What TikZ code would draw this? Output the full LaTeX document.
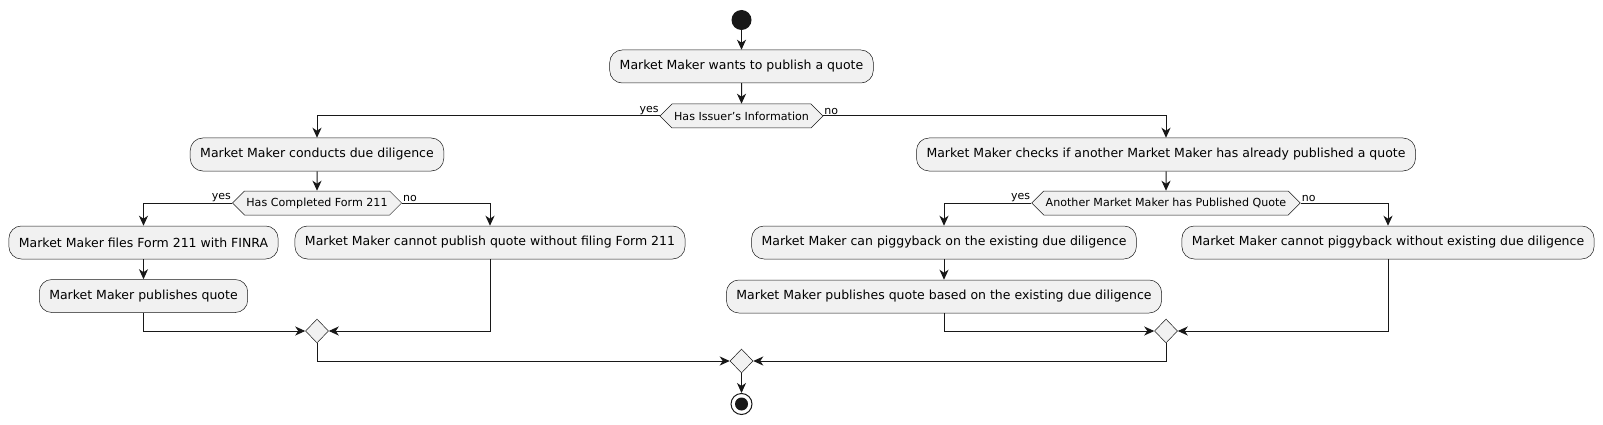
\documentclass[tikz,border=0pt]{standalone}
\usepackage{fontspec}
\setmainfont{DejaVu Sans}
\usepackage{xcolor}
\definecolor{ink}{HTML}{181818}
\definecolor{actfill}{HTML}{F1F1F1}
\usepackage{tikz}
\usetikzlibrary{arrows.meta,positioning,shapes.geometric,shapes.symbols}

\begin{document}
\begin{tikzpicture}[
  x=1pt, y=-1pt,
  font=\fontsize{12.5}{14}\selectfont,
  act/.style={draw=ink, fill=actfill, line width=0.5pt, rounded corners=12.5pt,
    minimum height=33pt, inner xsep=10pt},
  decide/.style={draw=ink, fill=actfill, line width=0.5pt, signal,
    signal to=west and east, signal pointer angle=90, minimum height=24pt,
    inner xsep=2pt, font=\fontsize{11.1}{13}\selectfont},
  merge/.style={draw=ink, fill=actfill, line width=0.5pt, diamond,
    minimum width=23pt, minimum height=24pt, inner sep=0pt},
  flow/.style={draw=ink, line width=1pt, -{Stealth[length=10pt,width=9pt,inset=3pt]}},
  guard/.style={font=\fontsize{11}{13}\selectfont, inner sep=1pt}
]
  \useasboundingbox (0,0) rectangle (1603,425);

  % top
  \node[circle, fill=ink, minimum size=20pt, inner sep=0pt] (start) at (741.5,20) {};
  \node[act] (want) at (741.5,66.5) {Market Maker wants to publish a quote};
  \node[decide] (q1) at (741.5,116) {Has Issuer's Information};
  \node[guard, anchor=south east] (q1yes) at (q1.west) {yes};
  \node[guard, anchor=south west] (q1no) at (q1.east) {no};

  % left branch
  \node[act] (dd) at (317,154.5) {Market Maker conducts due diligence};
  \node[decide] (q2) at (317,203) {Has Completed Form 211};
  \node[guard, anchor=south east] (q2yes) at (q2.west) {yes};
  \node[guard, anchor=south west] (q2no) at (q2.east) {no};
  \node[act] (file) at (143.5,242.5) {Market Maker files Form 211 with FINRA};
  \node[act] (pubq) at (143.5,296) {Market Maker publishes quote};
  \node[act] (nopub) at (490,242.5) {Market Maker cannot publish quote without filing Form 211};
  \node[merge] (m1) at (317,331) {};

  % right branch
  \node[act] (chk) at (1166,154.5) {Market Maker checks if another Market Maker has already published a quote};
  \node[decide] (q3) at (1166,203) {Another Market Maker has Published Quote};
  \node[guard, anchor=south east] (q3yes) at (q3.west) {yes};
  \node[guard, anchor=south west] (q3no) at (q3.east) {no};
  \node[act] (piggy) at (944,242.5) {Market Maker can piggyback on the existing due diligence};
  \node[act] (pubex) at (944,296.5) {Market Maker publishes quote based on the existing due diligence};
  \node[act] (nopig) at (1388,242.5) {Market Maker cannot piggyback without existing due diligence};
  \node[merge] (m2) at (1166,331) {};

  % bottom
  \node[merge] (fin) at (741.5,361) {};
  \node[circle, draw=ink, line width=1pt, fill=white, minimum size=21pt, inner sep=0pt,
    path picture={\fill[ink] (path picture bounding box.center) circle (6.5pt);}] (stop) at (741.5,404) {};

  \draw[flow] (start) -- (want);
  \draw[flow] (want) -- (q1);
  \draw[flow] (q1.west) -| (dd);
  \draw[flow] (q1.east) -| (chk);
  \draw[flow] (dd) -- (q2);
  \draw[flow] (q2.west) -| (file);
  \draw[flow] (q2.east) -| (nopub);
  \draw[flow] (file) -- (pubq);
  \draw[flow] (pubq.south) |- (m1);
  \draw[flow] (nopub.south) |- (m1);
  \draw[flow] (chk) -- (q3);
  \draw[flow] (q3.west) -| (piggy);
  \draw[flow] (q3.east) -| (nopig);
  \draw[flow] (piggy) -- (pubex);
  \draw[flow] (pubex.south) |- (m2);
  \draw[flow] (nopig.south) |- (m2);
  \draw[flow] (m1.south) |- (fin);
  \draw[flow] (m2.south) |- (fin);
  \draw[flow] (fin) -- (stop);
\end{tikzpicture}
\end{document}
